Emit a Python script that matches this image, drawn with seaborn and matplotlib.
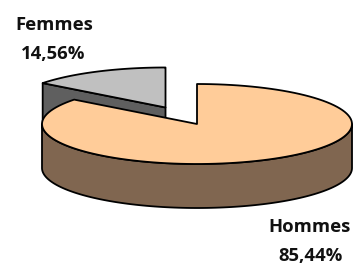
import numpy as np
import matplotlib.pyplot as plt
import seaborn as sns

# parts of the pie, clockwise from the top
labels = ["Hommes", "Femmes"]
values = [85.44, 14.56]
pct_labels = ["85,44%", "14,56%"]
top_colors = ["#FFCC99", "#C0C0C0"]
side_colors = ["#806650", "#5F5F5F"]
explode = [0.0, 0.46]

sns.set_theme(style="white")
plt.rcParams['font.family'] = ['Open Sans', 'DejaVu Sans']

fig = plt.figure(figsize=(3.55, 2.64), dpi=100)
ax = fig.add_axes([0, 0, 1, 1])
ax.set_xlim(0, 355)
ax.set_ylim(264, 0)
ax.axis('off')

# pie geometry in pixel units (ellipse seen from above at an angle)
cx, cy, rx, ry, depth = 197, 124, 155, 40, 44


def pt(c, t):
    return c[0] + rx * np.cos(t), c[1] - ry * np.sin(t)


def arc(c, a, b, n=120):
    t = np.linspace(a, b, n)
    x, y = pt(c, t)
    return list(x), list(y)


def draw_slice(c, a, b, top, side):
    kw = dict(edgecolor='black', lw=1.3, joinstyle='round')
    # radial faces
    for ang, sign in ((a, 1), (b, -1)):
        if sign * np.cos(ang) > 1e-6:
            ex, ey = pt(c, ang)
            ax.fill([c[0], ex, ex, c[0]], [c[1], ey, ey + depth, c[1] + depth],
                    facecolor=side, **kw)
    # outer wall, front part only
    for k in (-1, 0, 1):
        lo, hi = max(a, -np.pi + 2 * np.pi * k), min(b, 2 * np.pi * k)
        if hi > lo:
            x, y = arc(c, lo, hi)
            ax.fill(x + x[::-1], y + [v + depth for v in y[::-1]],
                    facecolor=side, **kw)
    # top face
    x, y = arc(c, a, b)
    ax.fill([c[0]] + x, [c[1]] + y, facecolor=top, **kw)


fracs = np.array(values) / sum(values)
start = np.pi / 2
slices = []
for i, f in enumerate(fracs):
    b = start
    a = start - f * 2 * np.pi
    mid = (a + b) / 2
    c = (cx + explode[i] * rx * np.cos(mid), cy - explode[i] * ry * np.sin(mid))
    slices.append((c, a, b))
    start = a

# back slice first
for i in (1, 0):
    c, a, b = slices[i]
    draw_slice(c, a, b, top_colors[i], side_colors[i])

txt = dict(fontsize=13.3, fontweight='bold', color='#111111', ha='center', va='baseline')
ax.text(310, 232, labels[0], **txt)
ax.text(311, 261, pct_labels[0], **txt)
ax.text(54, 30, labels[1], **txt)
ax.text(53, 59, pct_labels[1], **txt)

fig.savefig("out.png", dpi=100)
